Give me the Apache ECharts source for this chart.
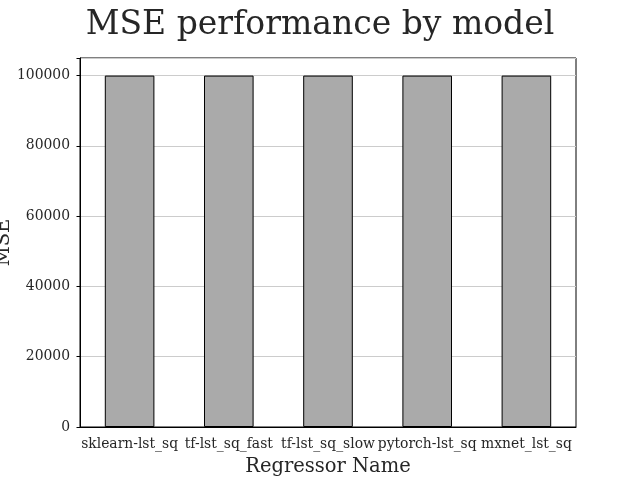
<!DOCTYPE html>
<html><head><meta charset="utf-8">
<script src="https://cdn.jsdelivr.net/npm/echarts@6/dist/echarts.min.js"></script>
<style>html,body{margin:0;padding:0;background:#fff}#c{width:640px;height:480px}</style>
</head><body><div id="c"></div>
<script>
const categories = ["sklearn-lst_sq","tf-lst_sq_fast","tf-lst_sq_slow","pytorch-lst_sq","mxnet_lst_sq"];
const mseValues = [100000,100000,100000,100000,100000];
const titleText = "MSE performance by model";
const xName = "Regressor Name";
const yName = "MSE";
const font = "DejaVu Serif";
const chart = echarts.init(document.getElementById('c'));
chart.setOption({
  animation:false,
  backgroundColor:'#fff',
  title:{text:titleText,left:'center',top:4,textStyle:{fontFamily:font,fontSize:33,fontWeight:'normal',color:'#262626'}},
  grid:{left:80,right:64,top:58,bottom:53,show:true,borderColor:'#000',borderWidth:1,containLabel:false,outerBoundsMode:'none'},
  xAxis:{type:'category',data:categories,
    axisLine:{show:true,lineStyle:{color:'#000',width:1}},
    axisTick:{show:false},
    axisLabel:{fontFamily:font,fontSize:13.9,color:'#262626',margin:10,interval:0},
    name:xName,nameLocation:'middle',nameGap:30,
    nameTextStyle:{fontFamily:font,fontSize:19.5,color:'#262626'}},
  yAxis:{type:'value',min:0,max:105000,interval:20000,
    axisLine:{show:true,lineStyle:{color:'#000',width:1}},
    axisTick:{show:true,length:3.5,lineStyle:{color:'#000'}},
    axisLabel:{fontFamily:font,fontSize:13.9,color:'#262626',margin:10,
      formatter:v=>v%20000===0?String(v):''},
    splitLine:{show:true,lineStyle:{color:'#cccccc',width:1}},
    name:yName,nameLocation:'middle',nameGap:66,nameRotate:90,nameMoveOverlap:false,
    nameTextStyle:{fontFamily:font,fontSize:19.5,color:'#262626'}},
  series:[{type:'bar',data:mseValues,barWidth:'50%',
    itemStyle:{color:'#aaaaaa',borderColor:'#000',borderWidth:1}}]
});
</script></body></html>
